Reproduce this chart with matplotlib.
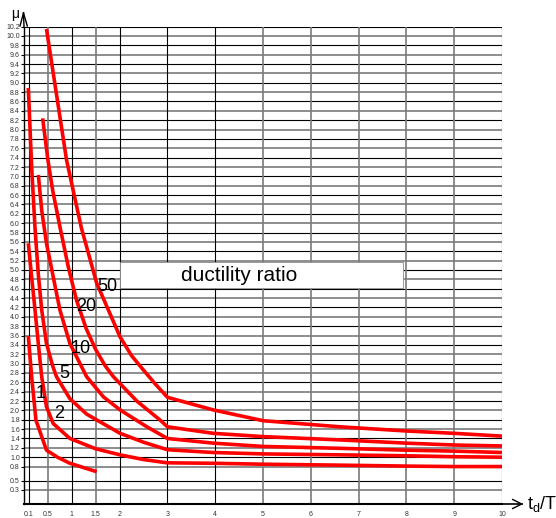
import numpy as np
import matplotlib
matplotlib.use('Agg')
import matplotlib.pyplot as plt
from matplotlib import patches
from matplotlib.lines import Line2D

plt.rcParams['font.family'] = ['Liberation Sans', 'DejaVu Sans']

# curves: t_d/T vs ductility ratio mu, one per label
td_1 = [0.09, 0.16, 0.25, 0.47, 0.7, 0.96, 1.52]
mu_1 = [3.59, 2.72, 1.79, 1.15, 1.0, 0.87, 0.69]

td_2 = [0.09, 0.16, 0.23, 0.30, 0.37, 0.47, 0.61, 0.96, 1.5, 2.01, 2.5, 2.99, 3.96, 5.0, 6.6, 8.0, 9.0, 10.0]
mu_2 = [5.57, 4.85, 4.15, 3.42, 2.72, 2.08, 1.72, 1.40, 1.18, 1.05, 0.95, 0.88, 0.87, 0.85, 0.83, 0.81, 0.80, 0.80]

td_5 = [0.09, 0.16, 0.23, 0.30, 0.37, 0.47, 0.6, 0.68, 0.96, 1.31, 2.01, 2.5, 3.0, 3.96, 5.0, 6.6, 8.0, 9.0, 10.0]
mu_5 = [8.89, 7.2, 5.9, 4.9, 4.15, 3.43, 2.95, 2.72, 2.25, 1.92, 1.51, 1.32, 1.16, 1.10, 1.07, 1.05, 1.03, 1.01, 1.0]

td_10 = [0.30, 0.37, 0.47, 0.61, 0.75, 0.96, 1.31, 1.66, 2.01, 2.57, 3.0, 3.96, 5.0, 6.6, 8.0, 9.0, 10.0]
mu_10 = [7.03, 6.28, 5.57, 4.86, 4.15, 3.43, 2.72, 2.29, 2.01, 1.65, 1.40, 1.30, 1.23, 1.19, 1.15, 1.13, 1.10]

td_20 = [0.39, 0.5, 0.6, 0.75, 0.93, 1.1, 1.3, 1.5, 1.7, 1.87, 2.36, 2.85, 3.0, 3.96, 5.0, 6.6, 8.0, 9.0, 10.0]
mu_20 = [8.24, 7.35, 6.7, 5.93, 5.05, 4.35, 3.75, 3.3, 2.95, 2.72, 2.2, 1.79, 1.65, 1.51, 1.44, 1.37, 1.30, 1.26, 1.24]

td_50 = [0.47, 0.89, 1.2, 1.52, 2.01, 2.25, 2.5, 2.75, 3.0, 3.96, 5.0, 6.6, 8.0, 9.0, 10.0]
mu_50 = [10.15, 7.35, 5.9, 4.72, 3.57, 3.17, 2.86, 2.56, 2.28, 2.01, 1.78, 1.65, 1.56, 1.51, 1.45]

curve_labels = ['1', '2', '5', '10', '20', '50']
label_x = [0.35, 0.73, 0.85, 1.19, 1.31, 1.74]
label_y = [2.37, 1.94, 2.79, 3.33, 4.22, 4.64]

x_ticks = [0.1, 0.5, 1, 1.5, 2, 3, 4, 5, 6, 7, 8, 9, 10]
x_labels = ['0.1', '0.5', '1', '1.5', '2', '3', '4', '5', '6', '7', '8', '9', '10']
y_ticks = [0.3, 0.5, 0.8] + list(np.round(np.arange(1.0, 10.21, 0.2), 1))
y_labels = ['%.1f' % v for v in y_ticks]

W, H = 556, 518
fig = plt.figure(figsize=(W / 100, H / 100), dpi=100)
ax = fig.add_axes([24 / W, 14 / H, 478 / W, 477.4 / H])
ax.set_xlim(0, 10)
ax.set_ylim(0, 10.2)

# grid
for i, y in enumerate(y_ticks):
    if i % 2 == 0:
        ax.axhline(y, color='#7a7a7a', lw=1.2, zorder=1)
    else:
        ax.axhline(y, color='black', lw=0.8, zorder=1)
gray_v = [0.5, 1.5, 5, 6, 7, 8, 9]
for x in x_ticks:
    if x in gray_v:
        ax.axvline(x, color='#7a7a7a', lw=1.2, zorder=1)
    else:
        ax.axvline(x, color='black', lw=0.8, zorder=1)

for s in ['top', 'right']:
    ax.spines[s].set_visible(False)
ax.spines['left'].set_linewidth(1.0)
ax.spines['bottom'].set_linewidth(1.5)

ax.set_yticks(y_ticks)
ax.set_yticklabels(y_labels, fontsize=5, color='#333333')
ax.tick_params(axis='y', length=2, width=0.8, pad=1)
ax.set_xticks(x_ticks)
ax.set_xticklabels(x_labels, fontsize=5, color='#333333')
ax.tick_params(axis='x', length=0, pad=5)

# label box
ax.add_patch(patches.Rectangle((2.0, 4.62), 5.93, 0.55, facecolor='white',
                               edgecolor='#888888', lw=0.6, zorder=3))
ax.text(3.28, 4.89, 'ductility ratio', fontsize=15, va='center', ha='left', zorder=4)

for xs, ys in [(td_1, mu_1), (td_2, mu_2), (td_5, mu_5), (td_10, mu_10), (td_20, mu_20), (td_50, mu_50)]:
    ax.plot(xs, ys, color='#ff0000', lw=2.6, solid_capstyle='butt', zorder=5)

for t, lx, ly in zip(curve_labels, label_x, label_y):
    ax.text(lx, ly, t, fontsize=13, ha='center', va='center', zorder=6)

# axis arrows
def fp(px, py):
    return px / W, 1 - py / H

def seg(p0, p1, lw=1.0):
    a, b = fp(*p0), fp(*p1)
    fig.add_artist(Line2D([a[0], b[0]], [a[1], b[1]], color='black', lw=lw))

seg((24, 27), (23.5, 13))
seg((20, 26), (23.5, 13))
seg((27.3, 26), (23.5, 13))
seg((502, 504), (521.7, 504), lw=1.2)
seg((512.7, 499.5), (521.7, 504))
seg((512.7, 508.5), (521.7, 504))

fig.text(*fp(15.5, 14), 'μ', fontsize=10, ha='center', va='center')
fig.text(*fp(527, 504), r'$\mathregular{t_d/T}$', fontsize=13, ha='left', va='center')

fig.savefig('out.png', dpi=100)
